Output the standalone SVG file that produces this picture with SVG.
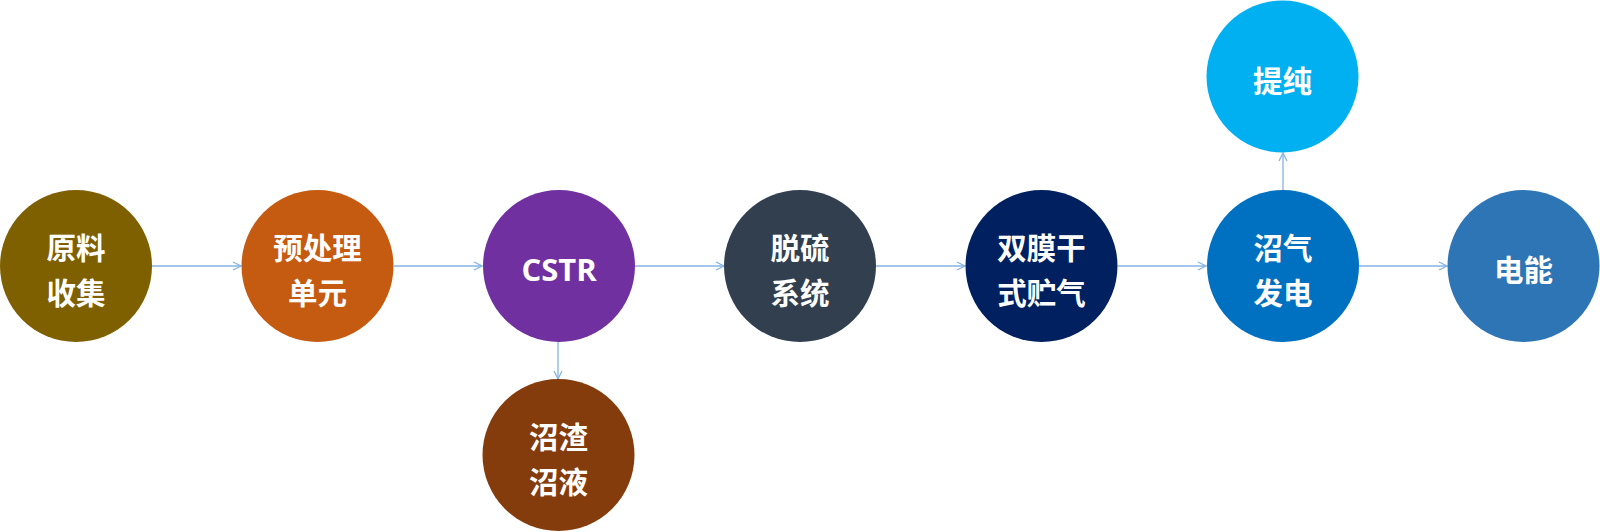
<svg xmlns="http://www.w3.org/2000/svg" width="1600" height="532" viewBox="0 0 1600 532">
<style>
.t{fill:#fff;font-family:"Noto Sans CJK SC","Noto Sans",sans-serif;font-weight:bold;font-size:29.5px;text-anchor:middle}
.c{stroke:#84B4E4;stroke-width:1.3;fill:none}
</style>
<defs>
<marker id="a" viewBox="0 0 10 10" refX="9" refY="5" markerWidth="10" markerHeight="10" markerUnits="userSpaceOnUse" orient="auto">
<path d="M1,1 L9,5 L1,9" fill="none" stroke="#84B4E4" stroke-width="1.3"/>
</marker>
</defs>
<rect width="1600" height="532" fill="#fff"/>
<g id="connectors" class="c">
<line x1="152" y1="266" x2="241" y2="266" marker-end="url(#a)"/>
<line x1="394" y1="266" x2="482" y2="266" marker-end="url(#a)"/>
<line x1="635" y1="266" x2="724" y2="266" marker-end="url(#a)"/>
<line x1="876" y1="266" x2="965" y2="266" marker-end="url(#a)"/>
<line x1="1118" y1="266" x2="1206" y2="266" marker-end="url(#a)"/>
<line x1="1359" y1="266" x2="1447" y2="266" marker-end="url(#a)"/>
<line x1="558" y1="342" x2="558" y2="379" marker-end="url(#a)"/>
<line x1="1283" y1="190" x2="1283" y2="153" marker-end="url(#a)"/>
</g>
<g id="n1"><circle cx="76" cy="266" r="76" fill="#7F6000"/><text class="t" x="76" y="259">原料</text><text class="t" x="76" y="304">收集</text></g>
<g id="n2"><circle cx="317.5" cy="266" r="76" fill="#C55A11"/><text class="t" x="317.5" y="259">预处理</text><text class="t" x="317.5" y="304">单元</text></g>
<g id="n3"><circle cx="559" cy="266" r="76" fill="#7030A0"/><text class="t" x="559" y="281" style="font-family:'Open Sans','Noto Sans',sans-serif;font-size:31px">CSTR</text></g>
<g id="n4"><circle cx="800" cy="266" r="76" fill="#323F4F"/><text class="t" x="800" y="259">脱硫</text><text class="t" x="800" y="304">系统</text></g>
<g id="n5"><circle cx="1041.5" cy="266" r="76" fill="#002060"/><text class="t" x="1041.5" y="259">双膜干</text><text class="t" x="1041.5" y="304">式贮气</text></g>
<g id="n6"><circle cx="1283" cy="266" r="76" fill="#0070C0"/><text class="t" x="1283" y="259">沼气</text><text class="t" x="1283" y="304">发电</text></g>
<g id="n7"><circle cx="1523.5" cy="266" r="76" fill="#2E75B6"/><text class="t" x="1523.5" y="281">电能</text></g>
<g id="n8"><circle cx="1282.5" cy="76.5" r="76" fill="#00B0F0"/><text class="t" x="1282.5" y="92">提纯</text></g>
<g id="n9"><circle cx="558.5" cy="455" r="76" fill="#843C0C"/><text class="t" x="558.5" y="448">沼渣</text><text class="t" x="558.5" y="493">沼液</text></g>
</svg>
